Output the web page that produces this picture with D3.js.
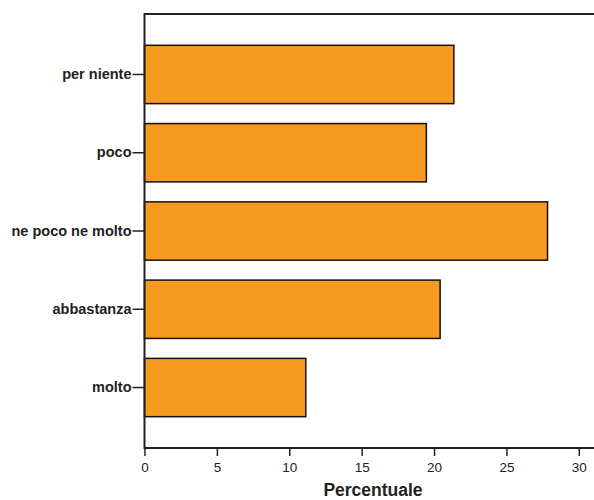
<!DOCTYPE html>
<html><head><meta charset="utf-8">
<script src="https://cdn.jsdelivr.net/npm/d3@7"></script>
<style>body{margin:0;background:#fff}svg{display:block}</style>
</head><body>
<script>
const categories = ["per niente","poco","ne poco ne molto","abbastanza","molto"];
const values = [21.37, 19.47, 27.84, 20.42, 11.14];
const xTicks = [0,5,10,15,20,25,30];

(function(){
const W=594,H=500;
const mLeft=144.5, mTop=14, mBottom=448;
const FF="'Liberation Sans', Arial, Helvetica, sans-serif";
const svg=d3.select("body").append("svg").attr("width",W).attr("height",H);
const x=d3.scaleLinear().domain([0,30]).range([mLeft,578.8]);
const y=d3.scaleBand().domain(categories).range([mTop,mBottom]).paddingInner(0.255).paddingOuter(0.4);

svg.selectAll("rect.bar").data(categories).enter().append("rect")
 .attr("class","bar")
 .attr("x",x(0)).attr("y",d=>y(d))
 .attr("width",(d,i)=>x(values[i])-x(0)).attr("height",y.bandwidth())
 .attr("fill","#f89a20").attr("stroke","#111").attr("stroke-width",1.5);

svg.append("line").attr("x1",mLeft).attr("x2",W).attr("y1",mTop).attr("y2",mTop).attr("stroke","#222").attr("stroke-width",2);
svg.append("line").attr("x1",mLeft).attr("x2",W).attr("y1",mBottom).attr("y2",mBottom).attr("stroke","#222").attr("stroke-width",2);
svg.append("line").attr("x1",mLeft).attr("x2",mLeft).attr("y1",mTop-1).attr("y2",mBottom+1).attr("stroke","#222").attr("stroke-width",2);

const xa=svg.append("g").attr("transform",`translate(0,${mBottom})`)
 .call(d3.axisBottom(x).tickValues(xTicks).tickSize(8).tickPadding(6).tickFormat(d3.format("d")));
xa.select(".domain").remove();
xa.selectAll(".tick line").attr("stroke","#222").attr("stroke-width",1.5);
xa.selectAll("text").attr("font-family",FF).attr("font-size",13.5).attr("fill","#222");

const ya=svg.append("g").attr("transform",`translate(${mLeft},0)`)
 .call(d3.axisLeft(y).tickSize(12).tickPadding(1));
ya.select(".domain").remove();
ya.selectAll(".tick line").attr("stroke","#222").attr("stroke-width",1.5);
ya.selectAll("text").attr("font-family",FF).attr("font-size",14.5).attr("font-weight","bold").attr("fill","#222");

svg.append("text").attr("x",373).attr("y",496).attr("text-anchor","middle")
 .attr("font-family",FF).attr("font-size",17.5).attr("font-weight","bold").attr("fill","#222")
 .text("Percentuale");
})();
</script>
</body></html>
